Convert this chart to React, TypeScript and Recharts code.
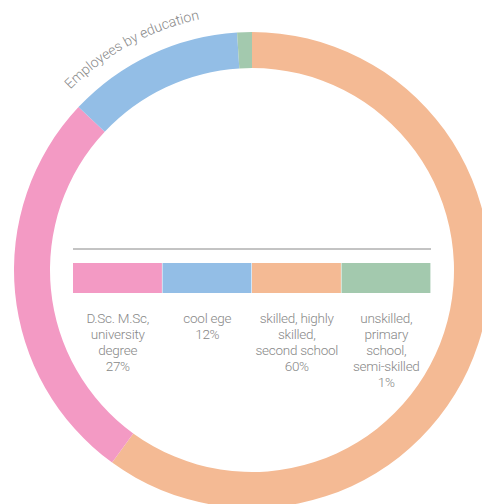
import React from "react";
import { PieChart, Pie, Cell } from "recharts";

const title = "Employees by education";
const categories = ["D.Sc. M.Sc, university degree", "cool ege", "skilled, highly skilled, second school", "unskilled, primary school, semi-skilled"];
const values = [27, 12, 60, 1];
const colors = ["#F39AC4", "#93BEE6", "#F4BA94", "#A3C9AE"];
const labelLines = [
  ["D.Sc. M.Sc,", "university", "degree"],
  ["cool ege"],
  ["skilled, highly", "skilled,", "second school"],
  ["unskilled,", "primary", "school,", "semi-skilled"],
];
const pieOrder = [2, 0, 1, 3];

const W = 482;
const H = 504;
const CX = 252;
const CY = 270;

function polar(r: number, deg: number) {
  const a = (deg * Math.PI) / 180;
  return [CX + r * Math.sin(a), CY - r * Math.cos(a)];
}

export default function App() {
  const pieData = pieOrder.map((i) => ({ name: categories[i], value: values[i], color: colors[i] }));
  const r = 256;
  const [x1, y1] = polar(r, 314.8);
  const [x2, y2] = polar(r, 359);
  const arcPath = `M ${x1} ${y1} A ${r} ${r} 0 0 1 ${x2} ${y2}`;
  const legendLeft = 73;
  const legendRight = 431;
  const boxW = (legendRight - legendLeft) / categories.length;
  const font = "Roboto, 'Liberation Sans', sans-serif";
  return (
    <div style={{ position: "fixed", left: 0, top: 0, width: W, height: H, background: "#fff" }}>
      <PieChart width={W} height={H} margin={{ top: 0, right: 0, bottom: 0, left: 0 }}>
        <Pie
          data={pieData}
          dataKey="value"
          cx={CX}
          cy={CY}
          innerRadius={202}
          outerRadius={238}
          startAngle={90}
          endAngle={-270}
          stroke="none"
          isAnimationActive={false}
        >
          {pieData.map((d, i) => (
            <Cell key={i} fill={d.color} />
          ))}
        </Pie>
      </PieChart>
      <svg width={W} height={H} style={{ position: "absolute", left: 0, top: 0, pointerEvents: "none" }}>
        <defs>
          <path id="titleArc" d={arcPath} />
        </defs>
        <text fontFamily={font} fontWeight={300} fontSize={14} fill="#888">
          <textPath href="#titleArc">{title}</textPath>
        </text>
        <line x1={legendLeft} x2={legendRight} y1={249} y2={249} stroke="#888" strokeWidth={1} />
        {categories.map((c, i) => (
          <g key={c}>
            <rect x={legendLeft + i * boxW} y={263} width={boxW - 0.6} height={30} fill={colors[i]} />
            <text
              x={legendLeft + i * boxW + boxW / 2}
              y={323}
              textAnchor="middle"
              fontFamily={font}
              fontWeight={300}
              fontSize={13.5}
              letterSpacing={-0.25}
              fill="#888"
            >
              {[...labelLines[i], `${values[i]}%`].map((ln, j) => (
                <tspan key={j} x={legendLeft + i * boxW + boxW / 2} dy={j === 0 ? 0 : 16}>
                  {ln}
                </tspan>
              ))}
            </text>
          </g>
        ))}
      </svg>
    </div>
  );
}
